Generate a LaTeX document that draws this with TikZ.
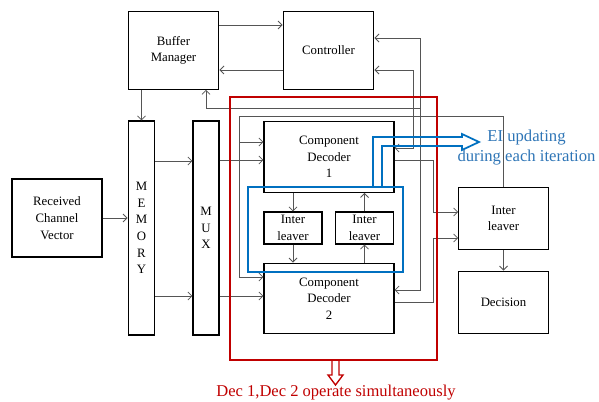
\documentclass[tikz,border=0pt]{standalone}
\usepackage{fontspec}
\setmainfont{Liberation Serif}
\usetikzlibrary{arrows.meta}
\definecolor{colDEC}{RGB}{192,0,0}
\definecolor{colEI}{RGB}{0,112,192}
\definecolor{colTXT}{RGB}{46,117,182}
\definecolor{colLN}{RGB}{85,85,85}

\begin{document}
\begin{tikzpicture}[x=0.75pt, y=-0.75pt, >={Straight Barb[length=3pt,width=6pt]},
    blk/.style={draw, line width=0.9pt, align=center, inner sep=0pt, font=\fontsize{9.6}{12.5}\selectfont},
    conn/.style={colLN, line width=0.6pt}]
      \useasboundingbox (0,0) rectangle (599,402);
      % --- Top: buffer manager and controller ---
      \node[blk, minimum width=68pt, minimum height=58pt] (buf) at (173.5,50.5) {Buffer\\Manager};
      \node[blk, minimum width=68pt, minimum height=58pt] (ctrl) at (328.5,50.5) {Controller};
      % --- Left: input side ---
      \node[blk, minimum width=67.5pt, minimum height=58.5pt] (rcv) at (57,218) {Received\\Channel\\Vector};
      \node[blk, minimum width=20pt, minimum height=160.5pt] (mem) at (141.5,228) {M\\E\\M\\O\\R\\Y};
      \node[blk, minimum width=19.5pt, minimum height=160.5pt] (mux) at (206,228) {M\\U\\X};
      % --- Middle: component decoders ---
      \node[blk, minimum width=97.5pt, minimum height=53pt] (dec1) at (329,157) {Component\\Decoder\\1};
      \node[blk, minimum width=97.5pt, minimum height=53pt] (dec2) at (329,298.5) {Component\\Decoder\\2};
      \node[blk, minimum width=43.5pt, minimum height=24pt] (il1) at (293,228) {Inter\\leaver};
      \node[blk, minimum width=44pt, minimum height=24pt] (il2) at (364.5,228) {Inter\\leaver};
      % --- Right: output side ---
      \node[blk, minimum width=67pt, minimum height=47pt] (il3) at (503.5,218.5) {Inter\\leaver};
      \node[blk, minimum width=67pt, minimum height=47pt] (dcs) at (503.5,302.5) {Decision};
      % --- connectors ---
      \draw[conn,->] (buf.east |- 0,25) -- (ctrl.west |- 0,25);
      \draw[conn,->] (ctrl.west |- 0,70) -- (buf.east |- 0,70);
      \draw[conn,->] (buf.south -| mem.north) -- (mem.north);
      \draw[conn,->] (rcv.east) -- (rcv.east -| mem.west);
      \draw[conn,->] (mem.east |- 0,161) -- (mux.west |- 0,161);
      \draw[conn,->] (mem.east |- 0,296) -- (mux.west |- 0,296);
      \draw[conn,->] (mux.east |- 0,160) -- (dec1.west |- 0,160);
      \draw[conn,->] (mux.east |- 0,296) -- (dec2.west |- 0,296);
      \draw[conn,->] (dec1.south -| il1.north) -- (il1.north);
      \draw[conn,->] (il1.south) -- (il1.south |- dec2.north);
      \draw[conn,->] (dec2.north -| il2.south) -- (il2.south);
      \draw[conn,->] (il2.north) -- (il2.north |- dec1.south);
      \draw[conn,->] (dec1.east |- 0,160) -| (433,212) -- (il3.west |- 0,212);
      \draw[conn,->] (dec2.east |- 0,302) -| (433,238) -- (il3.west |- 0,238);
      \draw[conn,->] (il3) -- (dcs);
      \draw[conn,<->] (ctrl.east |- 0,38) -| (420,290) -- (dec2.east |- 0,290);
      \draw[conn,<->] (ctrl.east |- 0,70) -| (413,148) -- (dec1.east |- 0,148);
      \draw[conn,->] (420,108) -| (206,0 |- buf.south);
      \draw[conn,->] (il3.north) |- (239,116) |- (dec2.west |- 0,277);
      \draw[conn,->] (239,142) -- (dec1.west |- 0,142);
      % --- frames and notes ---
      \draw[colDEC, line width=2.2pt] (230,97) rectangle (437,360);
      \draw[colEI, line width=2.2pt] (248,187) rectangle (403,272);
      \draw[colEI, line width=1.3pt] (373,187) |- (462,137) -- (462,134) -- (479,142) -- (462,150) -- (462,146) -| (382,187);
      \node[colTXT, font=\fontsize{12.5}{15}\selectfont, align=center] (ei) at (526.5,148) {EI updating\\during each iteration};
      \node[colDEC, font=\fontsize{12.4}{15}\selectfont] (note) at (336,393) {Dec 1,Dec 2 operate simultaneously};
      \draw[colDEC, line width=1pt] (332,360) -- (332,375) -- (328,375) -- (335.5,385) -- (343,375) -- (339,375) -- (339,360);
\end{tikzpicture}
\end{document}
